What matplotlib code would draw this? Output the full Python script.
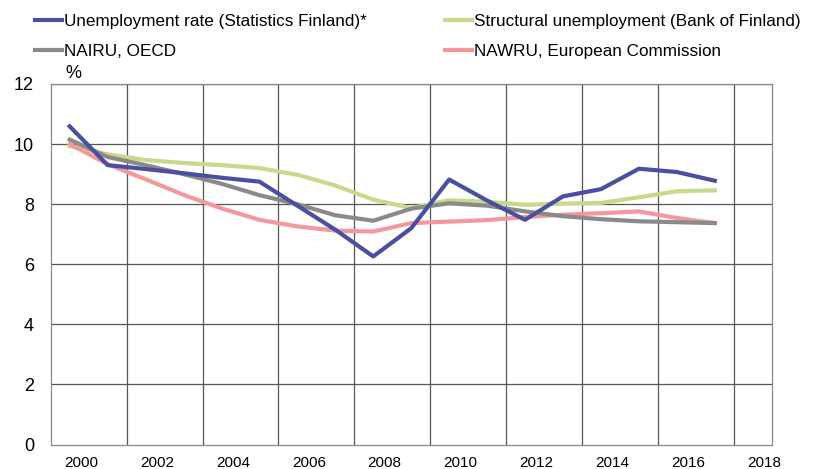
import matplotlib
matplotlib.use('Agg')
import matplotlib.pyplot as plt
import numpy as np

plt.rcParams['font.family'] = ['Liberation Sans', 'DejaVu Sans']

years = list(range(2000, 2018))

# Unemployment rate (Statistics Finland)*
unemployment = [10.59, 9.30, 9.17, 9.03, 8.88, 8.75, 7.95, 7.15, 6.26, 7.20,
                8.82, 8.12, 7.48, 8.26, 8.50, 9.18, 9.07, 8.78]
# Structural unemployment (Bank of Finland)
structural = [9.93, 9.66, 9.47, 9.37, 9.30, 9.20, 8.98, 8.62, 8.15, 7.87,
              8.13, 8.08, 7.98, 8.02, 8.04, 8.23, 8.43, 8.46]
# NAIRU, OECD
nairu = [10.15, 9.57, 9.30, 9.00, 8.68, 8.30, 8.00, 7.63, 7.45, 7.85,
         8.03, 7.95, 7.76, 7.60, 7.50, 7.43, 7.40, 7.37]
# NAWRU, European Commission
nawru = [10.00, 9.33, 8.83, 8.31, 7.86, 7.48, 7.26, 7.12, 7.09, 7.37,
         7.42, 7.47, 7.57, 7.65, 7.70, 7.76, 7.54, 7.37]

tick_years = list(range(2000, 2019, 2))

fig = plt.figure(figsize=(8.13, 4.69), dpi=100)
ax = fig.add_axes([0.0624, 0.0522, 0.8868, 0.7687])

l1, = ax.plot(years, unemployment, color='#4b4f9f', lw=3, label='Unemployment rate (Statistics Finland)*', zorder=5)
l2, = ax.plot(years, structural, color='#c6d98c', lw=3, label='Structural unemployment (Bank of Finland)', zorder=3)
l3, = ax.plot(years, nairu, color='#8a8a8a', lw=3, label='NAIRU, OECD', zorder=4)
l4, = ax.plot(years, nawru, color='#f3989d', lw=3, label='NAWRU, European Commission', zorder=3)

ax.set_xlim(1999.5, 2018.5)
ax.set_ylim(0, 12)
ax.set_yticks(np.arange(0, 13, 2))
ax.tick_params(axis='y', labelsize=13, length=0, pad=12)

# category-style grid: vertical lines between years
for gx in np.arange(2001.5, 2018, 2):
    ax.axvline(gx, color='#555555', lw=0.9, zorder=1)
for gy in np.arange(2, 13, 2):
    ax.axhline(gy, color='#555555', lw=0.9, zorder=1)

ax.set_xticks([y + 0.3 for y in tick_years])
ax.set_xticklabels([str(y) for y in tick_years])
ax.tick_params(axis='x', labelsize=11, length=0, pad=8)

for s in ax.spines.values():
    s.set_color('#888888')
    s.set_linewidth(0.9)

ax.text(0.02, 1.005, '%', transform=ax.transAxes, fontsize=13, ha='left', va='bottom')

fig.legend([l1, l3, l2, l4], [l1.get_label(), l3.get_label(), l2.get_label(), l4.get_label()],
           loc='upper left', bbox_to_anchor=(35 / 813, 1 - 14 / 469), ncol=2, frameon=False,
           fontsize=12.3, handlelength=1.6, handletextpad=0.1, columnspacing=4.55,
           labelspacing=0.85, borderpad=0, borderaxespad=0)

fig.savefig('out.png', dpi=100)
